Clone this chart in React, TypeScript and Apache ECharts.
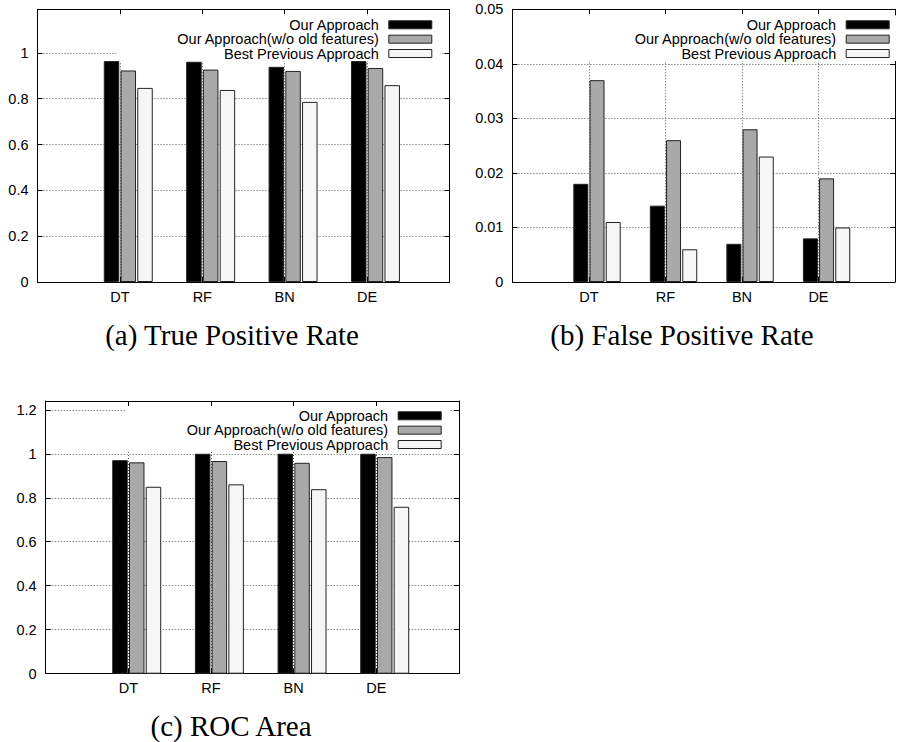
import React, { useEffect, useRef } from 'react';
import * as echarts from 'echarts';

// ---- data ----
const categories = ['DT', 'RF', 'BN', 'DE'];
const seriesNames = ['Our Approach', 'Our Approach(w/o old features)', 'Best Previous Approach'];

const tprOurs = [0.964, 0.961, 0.939, 0.964];
const tprNoOld = [0.923, 0.927, 0.921, 0.934];
const tprPrev = [0.847, 0.838, 0.786, 0.859];

const fprOurs = [0.018, 0.014, 0.007, 0.008];
const fprNoOld = [0.037, 0.026, 0.028, 0.019];
const fprPrev = [0.011, 0.006, 0.023, 0.010];

const rocOurs = [0.971, 1.0, 1.0, 1.0];
const rocNoOld = [0.961, 0.967, 0.959, 0.985];
const rocPrev = [0.85, 0.861, 0.839, 0.759];

const captions = ['(a) True Positive Rate', '(b) False Positive Rate', '(c) ROC Area'];
const yMaxes = [1.19, 0.05, 1.24];
const yIntervals = [0.2, 0.01, 0.2];

// ---- styles / layout ----
const barColors = ['#000000', '#a9a9a9', '#f6f6f6'];
const barBorder = '#222222';
const SANS = '"Liberation Sans", Arial, sans-serif';
const SERIF = '"Liberation Serif", serif';
const FS = 14.5;

const panels = [
  {
    values: [tprOurs, tprNoOld, tprPrev],
    grid: { left: 37.5, top: 9.3, width: 412, height: 272.7 },
    legend: { right: 457.7, top: 15.3 },
    caption: { x: 232, y: 335 },
    barWidth: 15.5,
  },
  {
    values: [fprOurs, fprNoOld, fprPrev],
    grid: { left: 512.4, top: 9.3, width: 394.5, height: 272.7 },
    legend: { right: 0.3, top: 15.3 },
    caption: { x: 682, y: 335 },
    barWidth: 15,
  },
  {
    values: [rocOurs, rocNoOld, rocPrev],
    grid: { left: 45.7, top: 401, width: 413.3, height: 272.7 },
    legend: { right: 448.3, top: 406.3 },
    caption: { x: 231, y: 726 },
    barWidth: 15.5,
  },
];

function buildOption() {
  const axisData = ['', ...categories, ''];
  const pad = (arr: (number | null)[]) => [null, ...arr, null];
  const grid: any[] = [];
  const xAxis: any[] = [];
  const yAxis: any[] = [];
  const series: any[] = [];
  const legend: any[] = [];
  const graphic: any[] = [];
  const black = { color: '#000', width: 1 };
  const gridLine = { color: '#555', width: 1, type: [1, 2] };
  const labelFont = { color: '#000', fontFamily: SANS, fontSize: FS };

  panels.forEach((p, i) => {
    grid.push({ ...p.grid, containLabel: false, show: false });
    xAxis.push({
      type: 'category', gridIndex: i, data: axisData, boundaryGap: false, position: 'bottom',
      axisLine: { show: true, onZero: false, lineStyle: black },
      axisTick: { show: true, inside: true, length: 5, interval: 0, lineStyle: black },
      axisLabel: { show: true, interval: 0, margin: 7, lineHeight: 15, ...labelFont },
      splitLine: { show: true, interval: 0, lineStyle: gridLine },
    });
    xAxis.push({
      type: 'category', gridIndex: i, data: axisData, boundaryGap: false, position: 'top',
      axisLine: { show: true, onZero: false, lineStyle: black },
      axisTick: { show: true, inside: true, length: 5, interval: 0, lineStyle: black },
      axisLabel: { show: false },
      splitLine: { show: false },
    });
    yAxis.push({
      type: 'value', gridIndex: i, min: 0, max: yMaxes[i], interval: yIntervals[i], position: 'left',
      axisLine: { show: true, onZero: false, lineStyle: black },
      axisTick: { show: true, inside: true, length: 5, lineStyle: black },
      axisLabel: { show: true, margin: 9, showMaxLabel: i === 1, ...labelFont },
      splitLine: { show: true, lineStyle: gridLine },
    });
    yAxis.push({
      type: 'value', gridIndex: i, min: 0, max: yMaxes[i], interval: yIntervals[i], position: 'right',
      axisLine: { show: true, onZero: false, lineStyle: black },
      axisTick: { show: true, inside: true, length: 5, lineStyle: black },
      axisLabel: { show: false },
      splitLine: { show: false },
    });
    // spacer keeps the cluster offset like gnuplot's histogram layout
    series.push({
      type: 'bar', name: 'spacer' + i, xAxisIndex: 2 * i, yAxisIndex: 2 * i,
      data: pad(categories.map(() => null)), barWidth: p.barWidth, barGap: '8%',
      itemStyle: { color: 'transparent' }, silent: true,
    });
    p.values.forEach((vals, k) => {
      series.push({
        type: 'bar', name: seriesNames[k], xAxisIndex: 2 * i, yAxisIndex: 2 * i,
        data: pad(vals), barWidth: p.barWidth, barGap: '8%',
        itemStyle: { color: barColors[k], borderColor: barBorder, borderWidth: 1 },
        silent: true,
      });
    });
    legend.push({
      orient: 'vertical', align: 'right', right: p.legend.right, top: p.legend.top,
      itemWidth: 43, itemHeight: 8, itemGap: -0.65, icon: 'rect', z: 1,
      backgroundColor: '#fff', padding: [2, 8, 0, 60],
      data: seriesNames, selectedMode: false,
      itemStyle: { borderWidth: 1, borderColor: barBorder },
      textStyle: { fontFamily: SANS, fontSize: FS, color: '#000', lineHeight: 14, padding: [0, 5, 0, 0] },
    });
    graphic.push({
      type: 'text', x: p.caption.x, y: p.caption.y, silent: true,
      style: {
        text: captions[i], fill: '#000', font: '29px ' + SERIF,
        textAlign: 'center', textVerticalAlign: 'middle',
      },
    });
  });

  return {
    animation: false,
    backgroundColor: '#fff',
    textStyle: { fontFamily: SANS },
    grid, xAxis, yAxis, series, legend, graphic,
  };
}

export default function App() {
  const ref = useRef<HTMLDivElement>(null);
  useEffect(() => {
    if (!ref.current) return;
    const chart = echarts.init(ref.current, null, { renderer: 'svg' });
    chart.setOption(buildOption() as any);
    return () => chart.dispose();
  }, []);
  return (
    <div
      ref={ref}
      style={{ position: 'absolute', left: 0, top: 0, width: 898, height: 742, background: '#fff' }}
    />
  );
}
